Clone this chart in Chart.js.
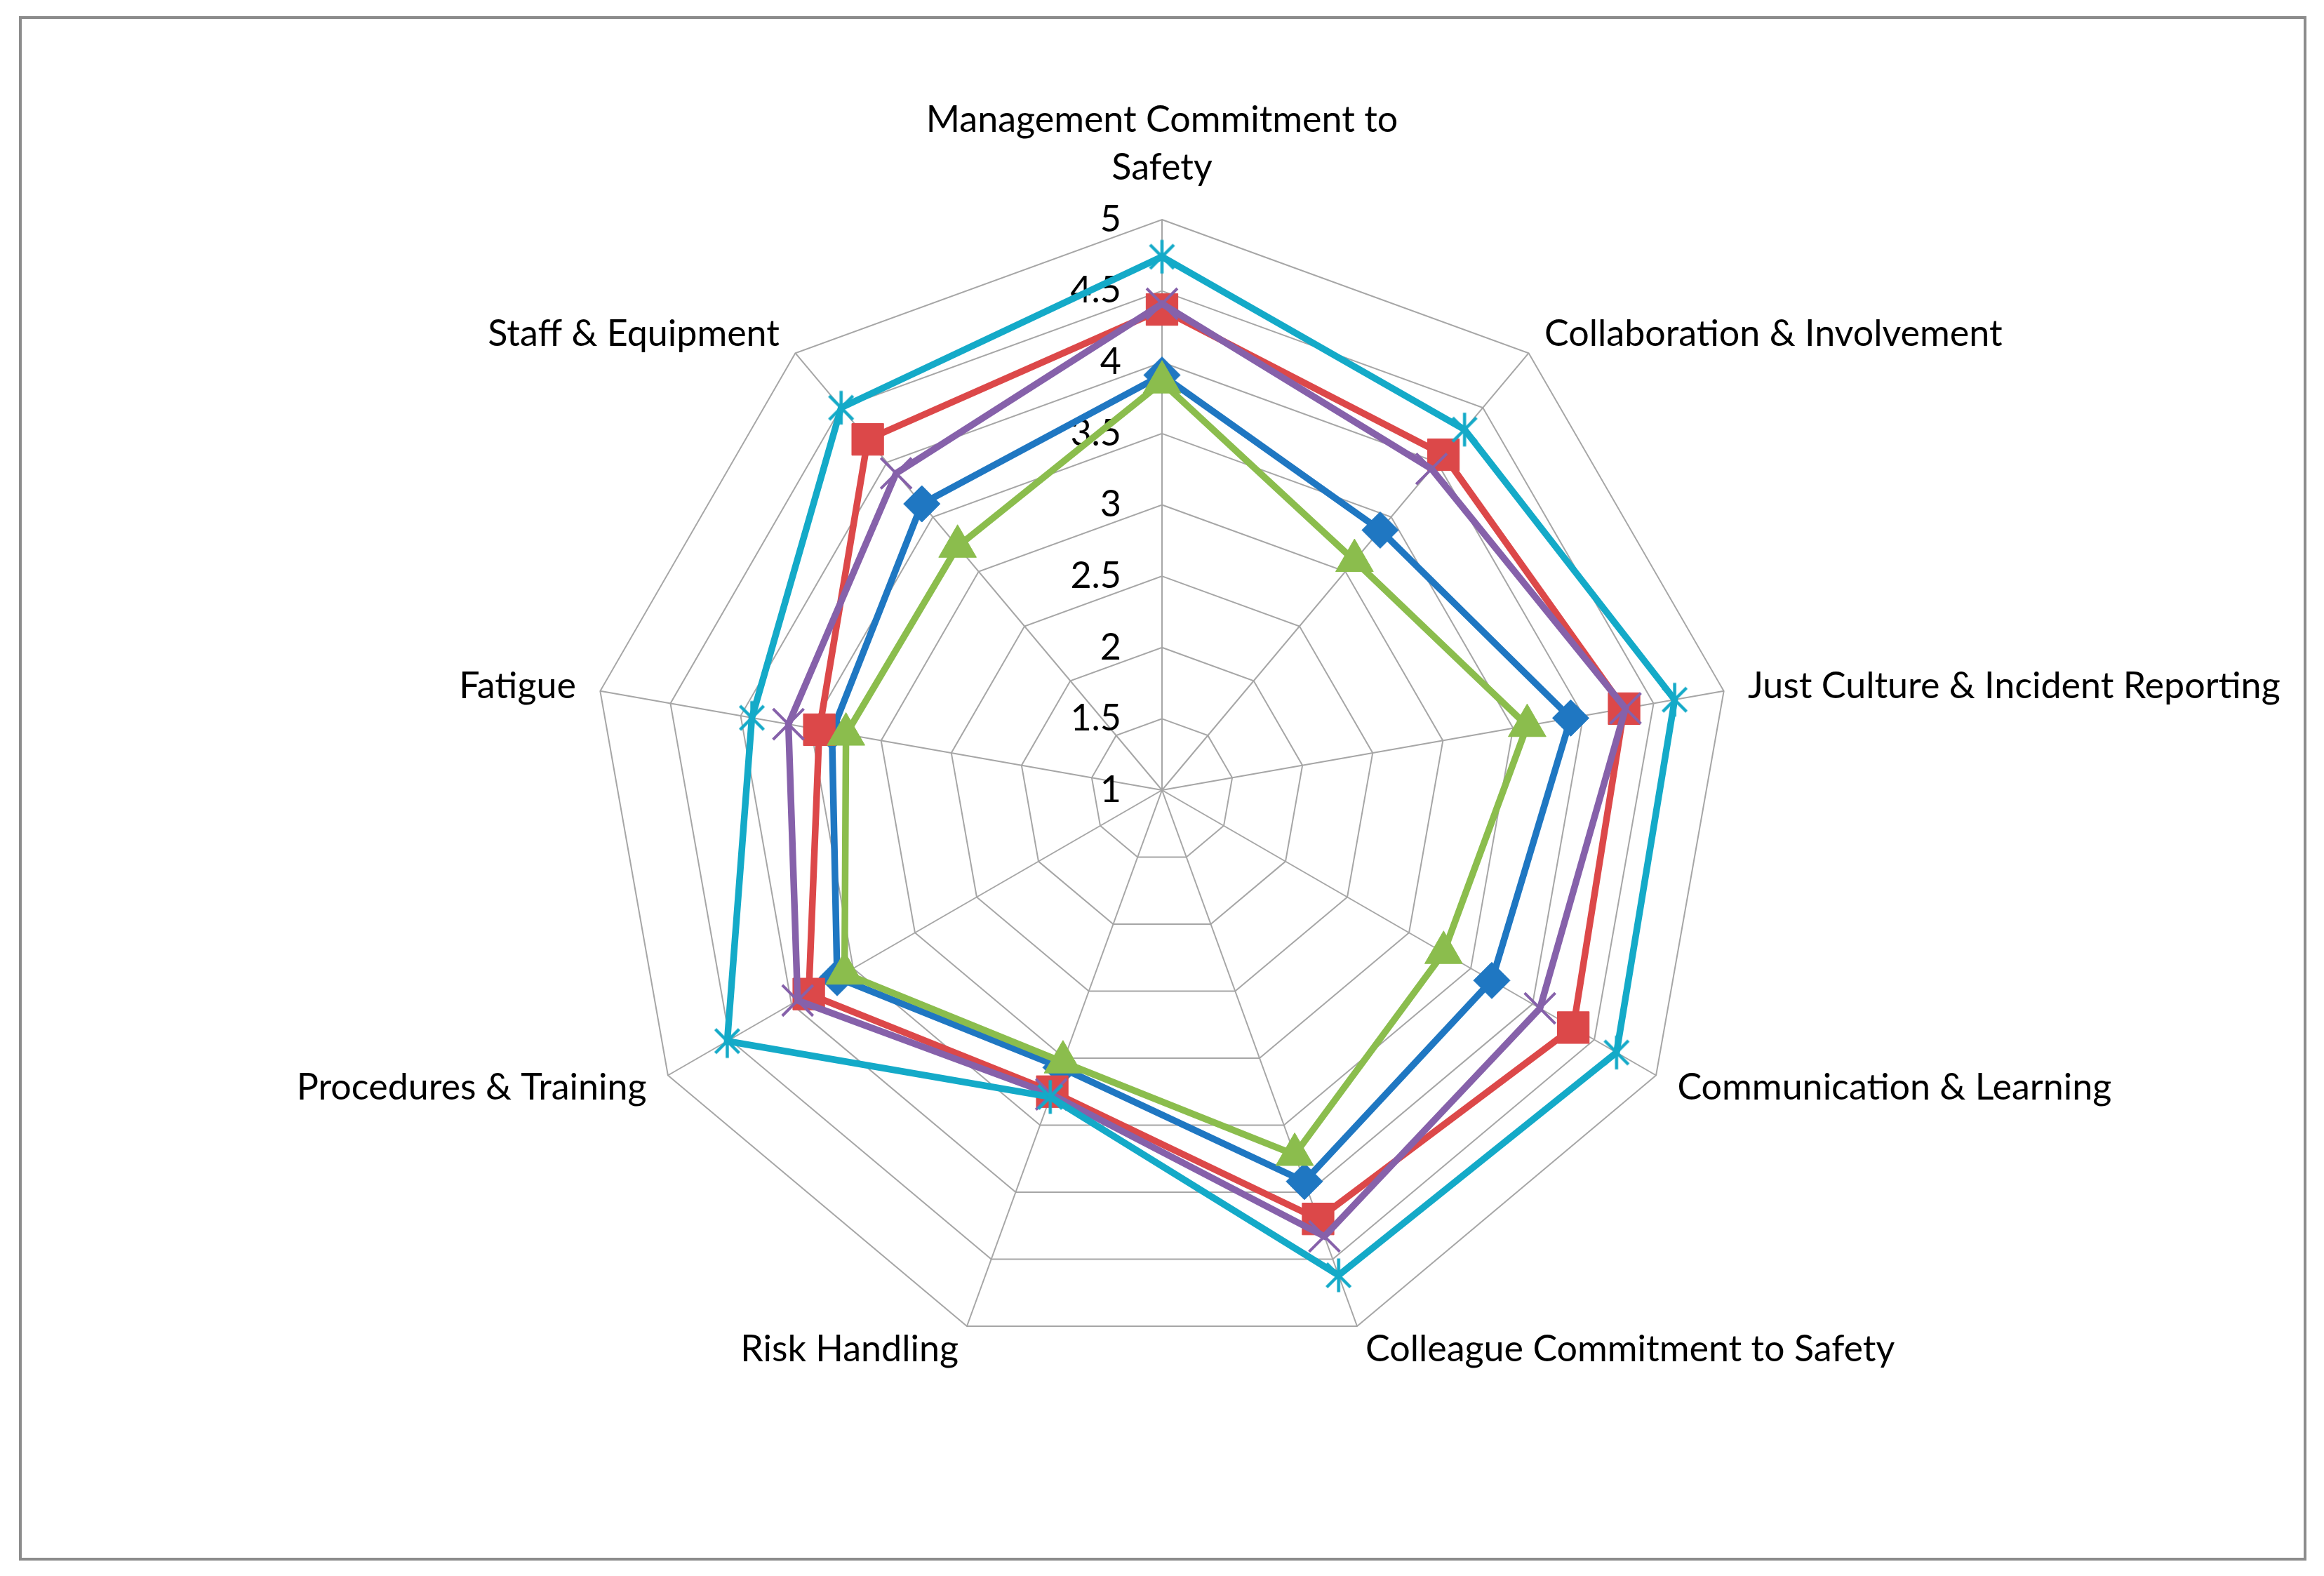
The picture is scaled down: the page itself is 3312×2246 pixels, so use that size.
<!DOCTYPE html>
<html>
<head>
<meta charset="utf-8">
<script src="https://cdn.jsdelivr.net/npm/chart.js@4.4.1/dist/chart.umd.min.js"></script>
<style>
  html, body { margin: 0; padding: 0; background: #fff; }
  #wrap { width: 3312px; height: 2246px; position: relative; }
</style>
</head>
<body>
<div id="wrap"><canvas id="radar"></canvas></div>
<script>
// categories, clockwise from the top
const categories = [
  ['Management Commitment to', 'Safety'],
  'Collaboration & Involvement',
  'Just Culture & Incident Reporting',
  'Communication & Learning',
  'Colleague Commitment to Safety',
  'Risk Handling',
  'Procedures & Training',
  'Fatigue',
  'Staff & Equipment'
];

const tickLabels = ['1', '1.5', '2', '2.5', '3', '3.5', '4', '4.5', '5'];

const blueSeries   = [3.91, 3.38, 3.91, 3.67, 3.92, 3.07, 3.63, 3.35, 3.62];
const redSeries    = [4.37, 4.07, 4.29, 4.33, 4.20, 3.25, 3.86, 3.44, 4.21];
const greenSeries  = [3.86, 3.10, 3.60, 3.28, 3.72, 3.03, 3.57, 3.25, 3.23];
const purpleSeries = [4.41, 3.94, 4.30, 4.06, 4.33, 3.27, 3.95, 3.66, 3.90];
const cyanSeries   = [4.74, 4.30, 4.65, 4.68, 4.62, 3.29, 4.52, 3.92, 4.50];

const FONT = 'Lato';
const FONT_SIZE = 52;
const CENTER_X = 1656;
const CENTER_Y = 1126;
const RADIUS = 813;

// Excel style asterisk: an X with a vertical bar, no horizontal bar
function asteriskMarker(color, r, w) {
  const c = document.createElement('canvas');
  const s = Math.ceil(2 * r + w + 2);
  c.width = s;
  c.height = s;
  const g = c.getContext('2d');
  const m = s / 2;
  const d = r * Math.SQRT1_2;
  g.strokeStyle = color;
  g.lineWidth = w;
  g.beginPath();
  g.moveTo(m, m - r); g.lineTo(m, m + r);
  g.moveTo(m - d, m - d); g.lineTo(m + d, m + d);
  g.moveTo(m + d, m - d); g.lineTo(m - d, m + d);
  g.stroke();
  return c;
}

function series(label, data, color, style, radius, order, markerLine) {
  return {
    label: label,
    data: data,
    borderColor: color,
    backgroundColor: color,
    borderWidth: 9.5,
    fill: false,
    pointStyle: style,
    pointRadius: radius,
    pointBackgroundColor: color,
    pointBorderColor: color,
    pointBorderWidth: markerLine,
    order: order
  };
}

// white page with the grey frame round the chart
const framePlugin = {
  id: 'frame',
  beforeDraw(chart) {
    const ctx = chart.ctx;
    ctx.save();
    ctx.fillStyle = '#ffffff';
    ctx.fillRect(0, 0, chart.width, chart.height);
    ctx.strokeStyle = '#8c8c8c';
    ctx.lineWidth = 4;
    ctx.strokeRect(29, 25, 3256, 2197);
    ctx.restore();
  }
};

// value labels sit left of the vertical axis, the library centres them on it
const tickLabelPlugin = {
  id: 'tickText',
  beforeDatasetsDraw(chart) {
    const scale = chart.scales.r;
    const ctx = chart.ctx;
    ctx.save();
    ctx.font = FONT_SIZE + 'px ' + FONT;
    ctx.fillStyle = '#000';
    ctx.textAlign = 'right';
    ctx.textBaseline = 'middle';
    scale.ticks.forEach(t => {
      const d = scale.getDistanceFromCenterForValue(t.value);
      ctx.fillText(t.label, scale.xCenter - 58, scale.yCenter - d);
    });
    ctx.restore();
  }
};

const cyan = '#14aac8';

new Chart(document.getElementById('radar'), {
  type: 'radar',
  data: {
    labels: categories,
    datasets: [
      series('Series1', blueSeries, '#1f77c2', 'rectRot', 26, 5, 1),
      series('Series2', redSeries, '#dc4849', 'rect', 32, 4, 1),
      series('Series3', greenSeries, '#8bbd4d', 'triangle', 31, 3, 1),
      series('Series4', purpleSeries, '#8661aa', 'crossRot', 31, 2, 4),
      series('Series5', cyanSeries, cyan, asteriskMarker(cyan, 24, 4.5), 24, 1, 4)
    ]
  },
  plugins: [framePlugin, tickLabelPlugin],
  options: {
    responsive: true,
    maintainAspectRatio: false,
    devicePixelRatio: 1,
    animation: false,
    events: [],
    plugins: {
      legend: { display: false },
      tooltip: { enabled: false }
    },
    scales: {
      r: {
        min: 1,
        max: 5,
        ticks: {
          stepSize: 0.5,
          display: false,
          callback: (v, i) => tickLabels[i]
        },
        grid: { color: '#a6a6a6', lineWidth: 2 },
        angleLines: { color: '#a6a6a6', lineWidth: 2 },
        pointLabels: {
          color: '#000',
          font: ctx => ({ family: FONT, size: FONT_SIZE, lineHeight: ctx.index === 0 ? 1.3 : 0.01 }),
          padding: ctx => ctx.index === 0 ? 40 : 35
        },
        afterFit(scale) {
          scale.xCenter = CENTER_X;
          scale.yCenter = CENTER_Y;
          scale.drawingArea = RADIUS;
          scale.fit();
        }
      }
    }
  }
});
</script>
</body>
</html>
